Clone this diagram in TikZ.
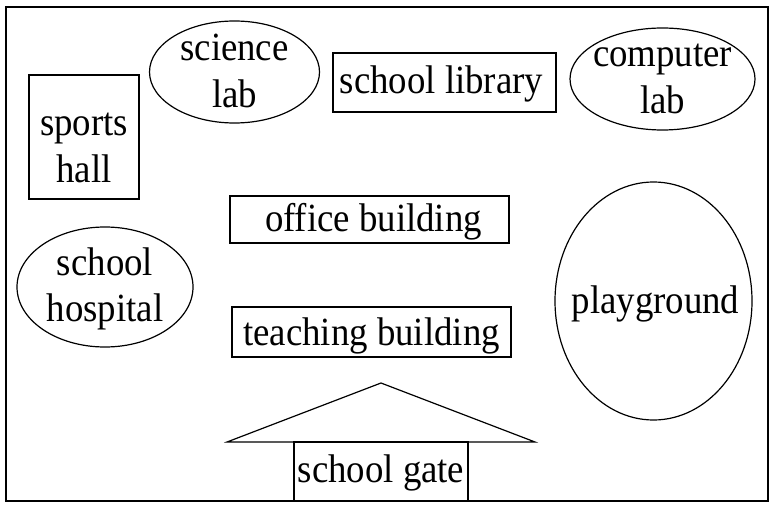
\documentclass[tikz,border=0pt]{standalone}
\usepackage{fontspec}
\setmainfont{Liberation Serif}
\newfontfamily\lblfont[FakeStretch=0.92]{Liberation Serif}
\newcommand{\twoline}[2]{\begin{tabular}[t]{@{}c@{}}#1\\#2\end{tabular}}
\usetikzlibrary{shapes.geometric}
\begin{document}
\begin{tikzpicture}[x=1pt,y=-1pt,line width=1.2pt,
  lbl/.style={font=\lblfont\fontsize{40}{47}\selectfont,inner sep=0pt,anchor=base},
  boxshape/.style={draw,rectangle,inner sep=0pt},
  ovalshape/.style={draw,ellipse,inner sep=0pt}]
\useasboundingbox (0,0) rectangle (775,510);
\fill[white] (0,0) rectangle (775,510);
% frame
\draw (6,7) rectangle (768,501);
% boxes
\node[boxshape,minimum width=110pt,minimum height=124pt] (sports) at (84,137) {};
\node[boxshape,minimum width=223pt,minimum height=59pt] (library) at (444.5,82.5) {};
\node[boxshape,minimum width=279pt,minimum height=47pt] (office) at (369.5,219.5) {};
\node[boxshape,minimum width=279pt,minimum height=50pt] (teaching) at (371.5,332) {};
% ellipses
\node[ovalshape,minimum width=170pt,minimum height=102pt] (science) at (234.5,72) {};
\node[ovalshape,minimum width=185pt,minimum height=102pt] (computer) at (662.5,79) {};
\node[ovalshape,minimum width=176pt,minimum height=120pt] (hospital) at (105,287) {};
\node[ovalshape,minimum width=197pt,minimum height=238pt] (playground) at (653.5,301) {};
% gate
\coordinate (roofL) at (227,442);
\coordinate (roofR) at (535,442);
\coordinate (roofT) at (381,383);
\draw[line join=miter] (roofL) -- (roofT) -- (roofR) -- cycle;
\node[boxshape,minimum width=174pt,minimum height=59pt] (gate) at (381,471.5) {};
% labels
\node[lbl,yshift=1pt] (sportst) at (sports) {\twoline{sports}{hall}};
\node[lbl,yshift=11pt] (sciencet) at (science) {\twoline{science}{lab}};
\node[lbl,yshift=12pt] (computert) at (computer) {\twoline{computer}{lab}};
\node[lbl,yshift=12pt] (hospitalt) at (hospital) {\twoline{school}{hospital}};
\node[lbl,yshift=-12pt,xshift=2pt] (playgroundt) at (playground) {playground};
\node[lbl,yshift=-11.5pt,xshift=-3pt] (libraryt) at (library) {school library};
\node[lbl,yshift=-12.5pt,xshift=4pt] (officet) at (office) {office building};
\node[lbl,yshift=-13pt] (teachingt) at (teaching) {teaching building};
\node[lbl,yshift=-10.5pt] (gatet) at (gate) {school gate};
\end{tikzpicture}
\end{document}
